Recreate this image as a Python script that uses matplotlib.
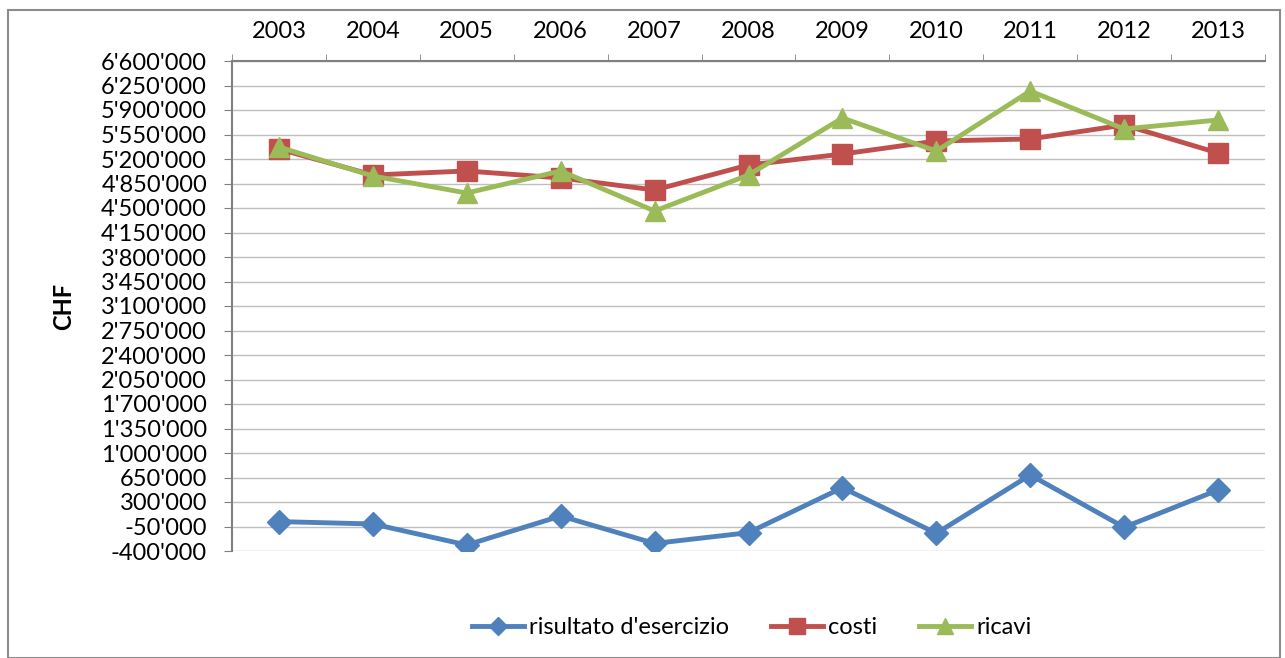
import matplotlib
matplotlib.use("Agg")
import matplotlib.pyplot as plt
from matplotlib.ticker import FuncFormatter, FixedLocator
from matplotlib.patches import Rectangle

years = ["2003", "2004", "2005", "2006", "2007", "2008", "2009", "2010", "2011", "2012", "2013"]
risultato = [20000, -14000, -314000, 100000, -292000, -138000, 504000, -147000, 686000, -61000, 471000]
costi = [5343000, 4971000, 5029000, 4929000, 4757000, 5114000, 5271000, 5457000, 5486000, 5686000, 5286000]
ricavi = [5371000, 4957000, 4714000, 5029000, 4457000, 4971000, 5786000, 5314000, 6171000, 5629000, 5757000]
series_names = ["risultato d'esercizio", "costi", "ricavi"]
y_ticks = [-400000 + 350000 * i for i in range(21)]

plt.rcParams['font.family'] = ['Lato', 'DejaVu Sans']

W, H = 1285, 658
fig = plt.figure(figsize=(W / 100, H / 100), dpi=100)
ax = fig.add_axes([232 / W, 1 - 551 / H, (1265 - 232) / W, (551 - 61) / H])

x = list(range(len(years)))
ax.plot(x, risultato, color="#4F81BD", lw=3.5, marker="D", ms=12, label=series_names[0])
ax.plot(x, costi, color="#C0504D", lw=3.5, marker="s", ms=14, label=series_names[1])
ax.plot(x, ricavi, color="#9BBB59", lw=3.5, marker="^", ms=15, label=series_names[2])

ax.set_xlim(-0.5, len(years) - 0.5)
ax.set_ylim(-400000, 6600000)
ax.yaxis.set_major_locator(FixedLocator(y_ticks))
ax.yaxis.set_major_formatter(FuncFormatter(lambda v, p: f"{int(round(v)):,}".replace(",", "'")))
ax.grid(axis="y", color="#BFBFBF", lw=1)
ax.set_axisbelow(True)

ax.xaxis.tick_top()
ax.set_xticks(x)
ax.set_xticklabels(years)
ax.xaxis.set_minor_locator(FixedLocator([i - 0.5 for i in range(len(years) + 1)]))
ax.tick_params(axis="x", which="major", length=0, labelsize=17, pad=14)
ax.tick_params(axis="x", which="minor", length=5, color="#808080", direction="out")
ax.tick_params(axis="y", length=6, color="#808080", labelsize=17, pad=12)

for s in ["right", "bottom"]:
    ax.spines[s].set_visible(False)
for s in ["left", "top"]:
    ax.spines[s].set_color("#808080")
    ax.spines[s].set_linewidth(1.5)

ax.set_ylabel("CHF", fontsize=17, fontweight="bold")
ax.yaxis.set_label_coords(-0.152, 0.5)

leg = fig.legend(loc="center", bbox_to_anchor=(0.585, 1 - 628 / H), ncol=3, frameon=False,
                 fontsize=17, handlelength=2.2, columnspacing=1.8, handletextpad=0.2, markerscale=0.8)

fig.patches.append(Rectangle((8 / W, 0), (1280 - 8) / W, 1 - 10 / H, transform=fig.transFigure,
                             fill=False, edgecolor="#8C8C8C", lw=1.5))

fig.savefig("out.png", dpi=100)
